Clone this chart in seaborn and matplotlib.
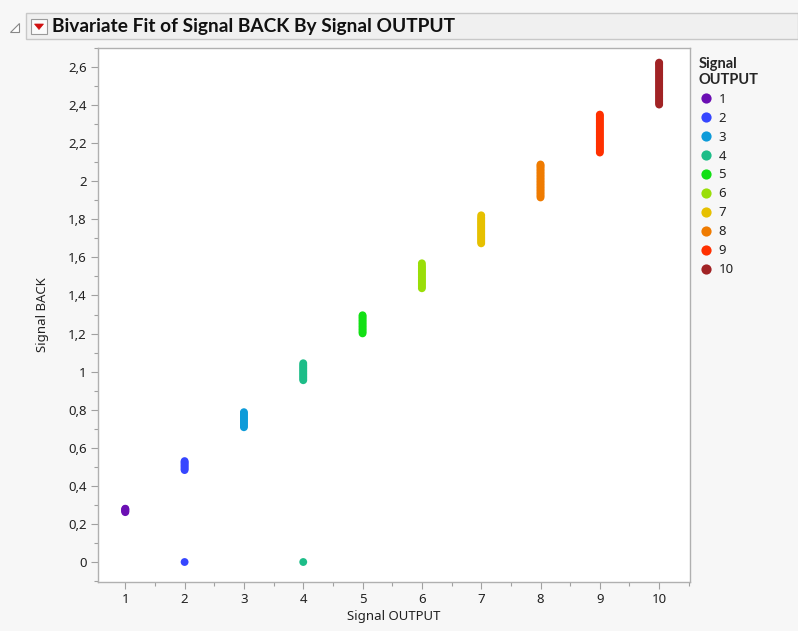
import matplotlib
matplotlib.use("Agg")
import matplotlib.pyplot as plt
from matplotlib.patches import Rectangle, Polygon
from matplotlib.ticker import MultipleLocator, FixedLocator, FixedFormatter
import seaborn as sns
import pandas as pd

# ---- data ----
output_levels = [1, 2, 3, 4, 5, 6, 7, 8, 9, 10]
back_1 = [0.262, 0.266, 0.270, 0.274, 0.278, 0.280]
back_2 = [0.0, 0.483, 0.490, 0.497, 0.504, 0.511, 0.518, 0.524, 0.530]
back_3 = [0.708, 0.716, 0.724, 0.732, 0.740, 0.748, 0.756, 0.764, 0.772, 0.780, 0.787]
back_4 = [0.0, 0.955, 0.963, 0.971, 0.979, 0.987, 0.995, 1.003, 1.011, 1.019,
          1.027, 1.035, 1.044]
back_5 = [1.201, 1.209, 1.217, 1.225, 1.233, 1.241, 1.249, 1.257, 1.265, 1.273,
          1.281, 1.289, 1.296]
back_6 = [1.438, 1.446, 1.454, 1.462, 1.470, 1.478, 1.486, 1.494, 1.502, 1.510,
          1.518, 1.526, 1.534, 1.542, 1.550, 1.558, 1.569]
back_7 = [1.674, 1.682, 1.690, 1.698, 1.706, 1.714, 1.722, 1.730, 1.738, 1.746,
          1.754, 1.762, 1.770, 1.778, 1.786, 1.794, 1.802, 1.810, 1.821]
back_8 = [1.915, 1.923, 1.931, 1.939, 1.947, 1.955, 1.963, 1.971, 1.979, 1.987,
          1.995, 2.003, 2.011, 2.019, 2.027, 2.035, 2.043, 2.051, 2.059, 2.067,
          2.075, 2.082, 2.088]
back_9 = [2.151, 2.159, 2.167, 2.175, 2.183, 2.191, 2.199, 2.207, 2.215, 2.223,
          2.231, 2.239, 2.247, 2.255, 2.263, 2.271, 2.279, 2.287, 2.295, 2.303,
          2.311, 2.319, 2.327, 2.335, 2.343, 2.350]
back_10 = [2.403, 2.411, 2.419, 2.427, 2.435, 2.443, 2.451, 2.459, 2.467, 2.475,
           2.483, 2.491, 2.499, 2.507, 2.515, 2.523, 2.531, 2.539, 2.547, 2.555,
           2.563, 2.571, 2.579, 2.587, 2.595, 2.603, 2.611, 2.618, 2.623]
all_back = [back_1, back_2, back_3, back_4, back_5, back_6, back_7, back_8, back_9, back_10]

colors = ["#6b0fb3", "#3646ff", "#0d9bd9", "#1dbd88", "#12e014",
          "#9ade08", "#e6c000", "#ef7b00", "#ff3000", "#a12325"]

y_ticks = [0, 0.2, 0.4, 0.6, 0.8, 1.0, 1.2, 1.4, 1.6, 1.8, 2.0, 2.2, 2.4, 2.6]
y_tick_labels = ["0", "0,2", "0,4", "0,6", "0,8", "1", "1,2", "1,4", "1,6",
                 "1,8", "2", "2,2", "2,4", "2,6"]
x_ticks = output_levels

title_text = "Bivariate Fit of Signal BACK By Signal OUTPUT"

rows = []
for lvl, vals in zip(output_levels, all_back):
    for v in vals:
        rows.append({"Signal OUTPUT": lvl, "Signal BACK": v})
df = pd.DataFrame(rows)

# ---- figure ----
sns.set_style("white")
plt.rcParams["font.family"] = ["Noto Sans", "DejaVu Sans"]

fig = plt.figure(figsize=(7.98, 6.31), dpi=100)
fig.patch.set_facecolor("#f7f7f7")
W, H = 798, 631

# title bar
bar = Rectangle((26 / W, 1 - 39 / H), 1 - 26 / W, 26 / H, transform=fig.transFigure,
                facecolor="#f0f0f0", edgecolor="#c8c8c8", linewidth=1)
fig.patches.append(bar)
tri = Polygon([(10 / W, 1 - 32 / H), (19 / W, 1 - 32 / H), (19 / W, 1 - 23 / H)],
              closed=True, transform=fig.transFigure, facecolor="white",
              edgecolor="#888888", linewidth=0.8)
fig.patches.append(tri)
btn = Rectangle((31 / W, 1 - 34 / H), 16 / W, 15 / H, transform=fig.transFigure,
                facecolor="#fbfbfb", edgecolor="#9a9a9a", linewidth=0.8)
fig.patches.append(btn)
arrow = Polygon([(34.5 / W, 1 - 24 / H), (43.5 / W, 1 - 24 / H), (39 / W, 1 - 29.5 / H)],
                closed=True, transform=fig.transFigure, facecolor="#d01010",
                edgecolor="#d01010", linewidth=0.5)
fig.patches.append(arrow)
fig.text(52 / W, 1 - 26.5 / H, title_text, fontsize=13.8, fontweight="bold",
         family=["Lato", "DejaVu Sans"], color="#111111", va="center", ha="left")

ax = fig.add_axes([98 / W, 1 - 582 / H, 592 / W, 534 / H])
ax.set_facecolor("white")

sns.scatterplot(data=df, x="Signal OUTPUT", y="Signal BACK", hue="Signal OUTPUT",
                palette=dict(zip(output_levels, colors)), hue_order=output_levels,
                s=32, linewidth=0, legend="full", ax=ax)

ax.set_xlim(0.54, 10.52)
ax.set_ylim(-0.105, 2.70)
ax.xaxis.set_major_locator(FixedLocator(x_ticks))
ax.xaxis.set_major_formatter(FixedFormatter([str(t) for t in x_ticks]))
ax.xaxis.set_minor_locator(MultipleLocator(0.5))
ax.yaxis.set_major_locator(FixedLocator(y_ticks))
ax.yaxis.set_major_formatter(FixedFormatter(y_tick_labels))
ax.yaxis.set_minor_locator(MultipleLocator(0.1))

ax.tick_params(axis="both", which="major", direction="out", length=5, width=0.8,
               color="#a0a0a0", labelsize=9.5, labelcolor="#222222", pad=3)
ax.tick_params(axis="both", which="minor", direction="out", length=3, width=0.8,
               color="#a0a0a0")
ax.tick_params(axis="x", which="both", bottom=True)
ax.tick_params(axis="y", which="both", left=True)
for sp in ax.spines.values():
    sp.set_color("#b0b0b0")
    sp.set_linewidth(1)

ax.set_xlabel("Signal OUTPUT", fontsize=9.5, color="#222222", labelpad=3)
ax.set_ylabel("Signal BACK", fontsize=9.5, color="#222222", labelpad=14)

sns.move_legend(ax, "upper left", bbox_to_anchor=(1.0, 1.0), frameon=False,
                title="Signal\nOUTPUT", fontsize=9.5, markerscale=1.3,
                handletextpad=0.3, labelspacing=0.45, borderaxespad=0.25,
                handlelength=1.2)
leg = ax.get_legend()
leg.get_title().set_fontweight("bold")
leg.get_title().set_family(["Lato", "DejaVu Sans"])
leg.get_title().set_fontsize(10.5)
leg._legend_box.align = "left"
for t in leg.get_texts():
    t.set_color("#222222")

fig.savefig("out.png", dpi=100, facecolor=fig.get_facecolor())
